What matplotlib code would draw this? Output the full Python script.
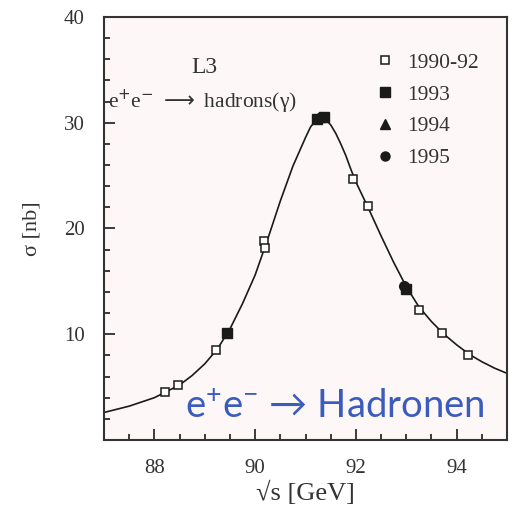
import matplotlib
matplotlib.use("Agg")
import matplotlib.pyplot as plt
from matplotlib.lines import Line2D
from matplotlib.ticker import MultipleLocator

SERIF = ["Liberation Serif", "DejaVu Serif", "DejaVu Sans"]
BLUE = "#3b5cbd"
INK = "#1a1a1a"
GREY = "#333333"

# Z-Resonanz: L3-Messpunkte, sqrt(s) in GeV, sigma in nb
e_9092 = [88.21, 88.47, 89.23, 90.18, 90.19, 91.95, 92.24, 93.25, 93.71, 94.23]
s_9092 = [4.5, 5.2, 8.5, 18.8, 18.2, 24.7, 22.1, 12.3, 10.15, 8.0]

e_93 = [89.45, 91.22, 91.36, 93.0]
s_93 = [10.1, 30.4, 30.5, 14.3]

e_94 = [91.3]
s_94 = [30.5]

e_95 = [91.3, 92.96]
s_95 = [30.5, 14.6]

# Anpassungskurve
fit_e = [87.0, 87.5, 88.0, 88.5, 88.75, 89.0, 89.25, 89.5, 89.75, 90.0,
         90.25, 90.5, 90.75, 91.0, 91.1, 91.2, 91.3, 91.4, 91.5, 91.6,
         91.7, 91.8, 91.9, 92.0, 92.25, 92.5, 92.75, 93.0, 93.25, 93.5,
         93.75, 94.0, 94.25, 94.5, 94.75, 95.0]
fit_s = [2.6, 3.2, 4.0, 5.2, 6.1, 7.2, 8.6, 10.5, 12.9, 15.6,
         19.0, 22.6, 25.9, 28.6, 29.6, 30.2, 30.45, 30.3, 29.8, 29.0,
         28.0, 26.9, 25.6, 24.4, 21.9, 19.3, 16.8, 14.5, 12.6, 11.2,
         10.0, 9.0, 8.1, 7.4, 6.8, 6.3]

fig = plt.figure(figsize=(5.19, 5.09), dpi=100)
ax = fig.add_axes([0.2004, 0.1356, 0.7765, 0.8310])
ax.set_facecolor("#fdf8f7")

ax.plot(fit_e, fit_s, color=INK, lw=1.2, zorder=2)
ax.plot(e_9092, s_9092, ls="none", marker="s", ms=6, mfc="white",
        mec=INK, mew=1.1, zorder=3)
ax.plot(e_93, s_93, ls="none", marker="s", ms=7, color=INK, zorder=4)
ax.plot(e_94, s_94, ls="none", marker="^", ms=7, color=INK, zorder=4)
ax.plot(e_95, s_95, ls="none", marker="o", ms=7, color=INK, zorder=4)

ax.set_xlim(87, 95)
ax.set_ylim(0, 40)
ax.xaxis.set_major_locator(MultipleLocator(2))
ax.xaxis.set_minor_locator(MultipleLocator(0.5))
ax.yaxis.set_minor_locator(MultipleLocator(2))
ax.set_yticks([10, 20, 30, 40])
ax.tick_params(which="both", direction="in", top=False, right=False,
               color=INK, width=1.2)
ax.tick_params(which="major", length=8, labelsize=15, pad=14)
ax.tick_params(which="minor", length=4)
for lab in ax.get_xticklabels() + ax.get_yticklabels():
    lab.set_family(SERIF)
    lab.set_color(GREY)
for sp in ax.spines.values():
    sp.set_linewidth(1.5)
    sp.set_color(GREY)

ax.set_xlabel("√s [GeV]", family=SERIF, fontsize=19, color=GREY,
              labelpad=2)
ax.set_ylabel("σ [nb]", family=SERIF, fontsize=16, color=GREY,
              labelpad=16)

ax.text(89.0, 35.2, "L3", family=SERIF, fontsize=17, color=GREY,
        ha="center", va="center")
ax.text(87.08, 32.0, r"e$^{+}$e$^{-}$ $\longrightarrow$ hadrons(γ)",
        family=SERIF, fontsize=15.5, color=GREY, ha="left", va="center")

handles = [
    Line2D([], [], ls="none", marker="s", ms=6, mfc="white", mec=INK, mew=1.1),
    Line2D([], [], ls="none", marker="s", ms=6.5, color=INK),
    Line2D([], [], ls="none", marker="^", ms=6.5, color=INK),
    Line2D([], [], ls="none", marker="o", ms=6.5, color=INK),
]
ax.legend(handles, ["1990-92", "1993", "1994", "1995"], frameon=False,
          loc="upper left", bbox_to_anchor=(0.68, 0.915), borderpad=0,
          borderaxespad=0, prop={"family": SERIF, "size": 15.5},
          labelcolor=GREY, handlelength=0.6, handletextpad=0.75,
          labelspacing=0.54)

ax.text(88.61, 2.1, r"$\mathregular{e^{+}e^{-}}$ → Hadronen",
        family=["Lato", "DejaVu Sans"], fontsize=27.5, color=BLUE,
        ha="left", va="baseline", zorder=6)

fig.savefig("out.png", dpi=100, facecolor="white")
